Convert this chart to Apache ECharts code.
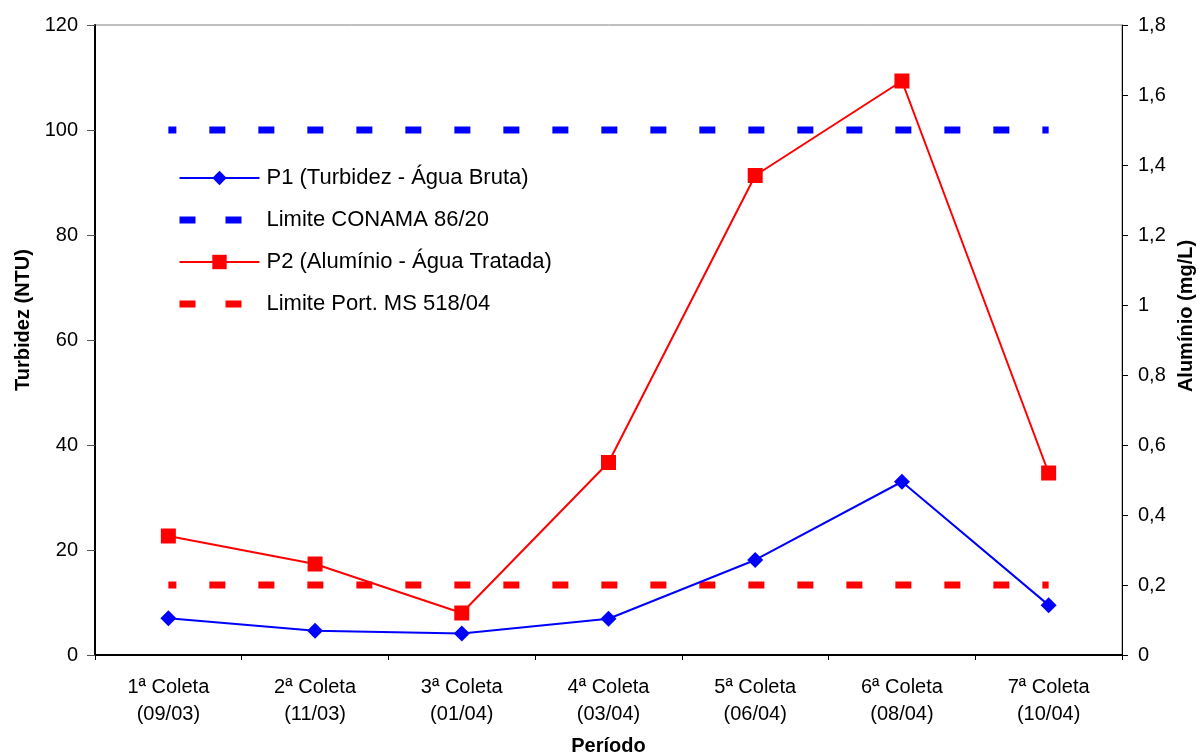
<!DOCTYPE html>
<html>
<head>
<meta charset="utf-8">
<script src="https://cdn.jsdelivr.net/npm/echarts@6/dist/echarts.min.js"></script>
<style>
  html, body { margin: 0; padding: 0; background: #fff; }
  #chart { width: 1196px; height: 756px; }
</style>
</head>
<body>
<div id="chart"></div>
<script>
// Sampling periods (x axis)
const categories = [
  '1ª Coleta\n(09/03)', '2ª Coleta\n(11/03)', '3ª Coleta\n(01/04)',
  '4ª Coleta\n(03/04)', '5ª Coleta\n(06/04)', '6ª Coleta\n(08/04)',
  '7ª Coleta\n(10/04)'
];
// Turbidity of raw water, NTU (left axis)
const p1Turbidez = [7.0, 4.6, 4.1, 6.9, 18.1, 33.0, 9.5];
// Aluminium in treated water, mg/L (right axis)
const p2Aluminio = [0.34, 0.26, 0.12, 0.55, 1.37, 1.64, 0.52];
// Regulatory limits
const limiteConama = [100, 100, 100, 100, 100, 100, 100];
const limitePortaria = [0.2, 0.2, 0.2, 0.2, 0.2, 0.2, 0.2];
// Tick settings
const leftTicks = { min: 0, max: 120, interval: 20 };
const rightTicks = { min: 0, max: 1.8, interval: 0.2 };

const FONT = 'Arial, "Liberation Sans", sans-serif';
const chart = echarts.init(document.getElementById('chart'), null, { renderer: 'canvas' });

// thick dashed limit line; one dash centred on every category point
const dashStyle = (color) => ({
  color: color, width: 7, type: [16, 33], dashOffset: 8, cap: 'butt'
});
// legend sample for a limit line: two dashes
const legendDash = (name, color) => ({
  name: name, itemStyle: { opacity: 0 },
  lineStyle: { color: color, width: 7, type: [16, 30], dashOffset: 0, cap: 'butt' }
});

chart.setOption({
  animation: false,
  backgroundColor: '#ffffff',
  textStyle: { fontFamily: FONT, color: '#000' },
  grid: {
    left: 95, right: 74, top: 25, bottom: 101,
    outerBoundsMode: 'none',
    containLabel: false,
    show: true, borderColor: '#808080', borderWidth: 1, backgroundColor: '#fff'
  },
  legend: {
    orient: 'vertical',
    left: 171, top: 162,
    itemWidth: 80, itemHeight: 18, itemGap: 20,
    textStyle: { fontFamily: FONT, fontSize: 22, color: '#000', padding: [0, 0, 0, 2] },
    data: [
      'P1 (Turbidez - Água Bruta)',
      legendDash('Limite CONAMA 86/20', '#0000ff'),
      'P2 (Alumínio - Água Tratada)',
      legendDash('Limite Port. MS 518/04', '#ff0000')
    ]
  },
  xAxis: {
    type: 'category',
    data: categories,
    boundaryGap: true,
    name: 'Período',
    nameLocation: 'middle',
    nameGap: 81,
    nameTextStyle: { fontFamily: FONT, fontSize: 20, fontWeight: 'bold', color: '#000' },
    axisLine: { lineStyle: { color: '#000', width: 2 } },
    axisTick: { show: true, length: 5, lineStyle: { color: '#000' } },
    axisLabel: { fontFamily: FONT, fontSize: 20, color: '#000', lineHeight: 27, margin: 19 },
    splitLine: { show: false }
  },
  yAxis: [
    {
      type: 'value',
      min: leftTicks.min, max: leftTicks.max, interval: leftTicks.interval,
      name: 'Turbidez (NTU)',
      nameLocation: 'middle',
      nameGap: 62,
      nameTextStyle: { fontFamily: FONT, fontSize: 20, fontWeight: 'bold', color: '#000', padding: [0, 0, 0, 40] },
      axisLine: { show: true, lineStyle: { color: '#000', width: 2 } },
      axisTick: { show: true, length: 8, lineStyle: { color: '#555' } },
      axisLabel: { fontFamily: FONT, fontSize: 20, color: '#000', margin: 17 },
      splitLine: { show: false }
    },
    {
      type: 'value',
      position: 'right',
      min: rightTicks.min, max: rightTicks.max, interval: rightTicks.interval,
      name: 'Alumínio (mg/L)',
      nameLocation: 'middle',
      nameGap: 53,
      nameTextStyle: { fontFamily: FONT, fontSize: 20, fontWeight: 'bold', color: '#000', padding: [0, 0, 0, 48] },
      axisLine: { show: true, lineStyle: { color: '#000', width: 1 } },
      axisTick: { show: true, length: 6, lineStyle: { color: '#000' } },
      axisLabel: {
        fontFamily: FONT, fontSize: 20, color: '#000', margin: 16,
        formatter: (v) => String(Math.round(v * 10) / 10).replace('.', ',')
      },
      splitLine: { show: false }
    }
  ],
  series: [
    {
      name: 'P1 (Turbidez - Água Bruta)',
      type: 'line',
      yAxisIndex: 0,
      data: p1Turbidez,
      symbol: 'diamond',
      symbolSize: 16,
      lineStyle: { color: '#0000ff', width: 2 },
      itemStyle: { color: '#0000ff' },
      z: 4
    },
    {
      name: 'Limite CONAMA 86/20',
      type: 'line',
      yAxisIndex: 0,
      data: limiteConama,
      symbol: 'none',
      lineStyle: dashStyle('#0000ff'),
      itemStyle: { color: '#0000ff' },
      z: 2
    },
    {
      name: 'P2 (Alumínio - Água Tratada)',
      type: 'line',
      yAxisIndex: 1,
      data: p2Aluminio,
      symbol: 'rect',
      symbolSize: 15,
      lineStyle: { color: '#ff0000', width: 2 },
      itemStyle: { color: '#ff0000' },
      z: 4
    },
    {
      name: 'Limite Port. MS 518/04',
      type: 'line',
      yAxisIndex: 1,
      data: limitePortaria,
      symbol: 'none',
      lineStyle: dashStyle('#ff0000'),
      itemStyle: { color: '#ff0000' },
      z: 2
    }
  ]
});
</script>
</body>
</html>
